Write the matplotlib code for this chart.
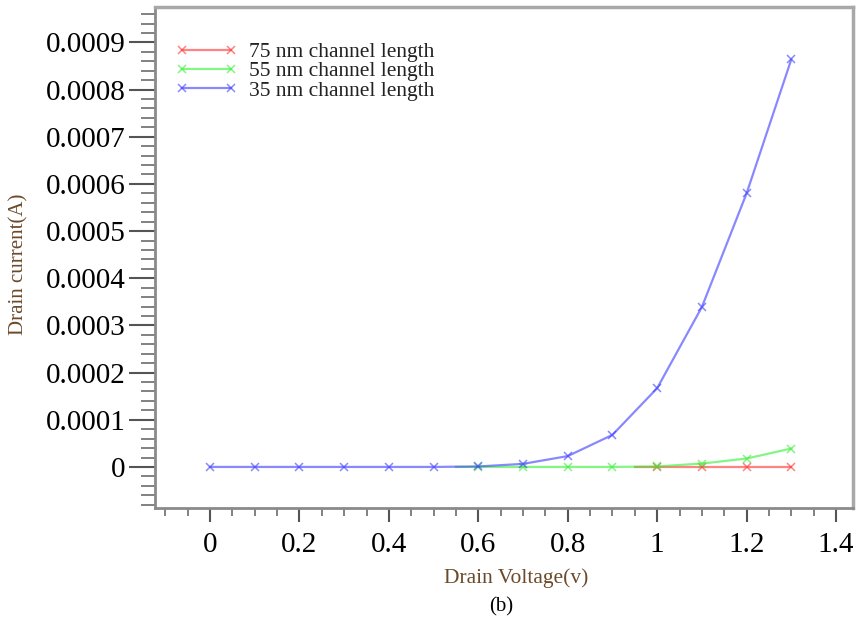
import matplotlib.pyplot as plt
from matplotlib.ticker import MultipleLocator, FuncFormatter

plt.rcParams['font.family'] = ['Liberation Serif', 'DejaVu Serif']

# drain voltage sweep (V) and drain current (A) per channel length
vd_35 = [0.0, 0.1, 0.2, 0.3, 0.4, 0.5, 0.6, 0.7, 0.8, 0.9, 1.0, 1.1, 1.2, 1.3]
id_35 = [0.0, 0.0, 0.0, 0.0, 0.0, 0.0, 0.000001, 0.0000065, 0.000023, 0.000068,
         0.000167, 0.000339, 0.00058, 0.000864]

vd_55 = [0.55, 0.6, 0.7, 0.8, 0.9, 1.0, 1.1, 1.2, 1.3]
id_55 = [0.0, 0.0, 0.0, 0.0, 0.0, 0.000001, 0.0000072, 0.0000178, 0.000039]

vd_75 = [0.95, 1.0, 1.1, 1.2, 1.3]
id_75 = [0.0, 0.0, 0.0, 0.0, 0.0]

labels = ['75 nm channel length', '55 nm channel length', '35 nm channel length']
colors = ['#ff3030', '#30f030', '#3a3aff']

fig = plt.figure(figsize=(8.58, 6.21), dpi=100)
ax = fig.add_axes([0.1807, 0.182, 0.8135, 0.8067])

series = [(vd_75, id_75), (vd_55, id_55), (vd_35, id_35)]
for (x, y), lab, c in zip(series, labels, colors):
    # the shorter curves start half a step early, without a marker there
    start = 0 if x[0] == 0.0 else 1
    ax.plot(x, y, color=c, alpha=0.6, lw=1.6, marker='x', ms=6, mew=1.1,
            markevery=list(range(start, len(x))), label=lab)

ax.set_xlim(-0.123, 1.438)
ax.set_ylim(-0.000087, 0.000975)

ax.xaxis.set_major_locator(MultipleLocator(0.2))
ax.xaxis.set_minor_locator(MultipleLocator(0.05))
ax.yaxis.set_major_locator(MultipleLocator(0.0001))
ax.yaxis.set_minor_locator(MultipleLocator(0.00002))

ax.xaxis.set_major_formatter(FuncFormatter(lambda v, p: f'{v:g}'))
ax.yaxis.set_major_formatter(FuncFormatter(lambda v, p: '0' if abs(v) < 1e-9 else f'{v:.4f}'))

ax.tick_params(axis='y', which='major', length=19, width=1.5, color='#555555',
               labelsize=21, pad=2)
ax.tick_params(axis='y', which='minor', length=10, width=1.3, color='#777777')
ax.tick_params(axis='x', which='major', length=10, width=1.5, color='#555555',
               labelsize=21, pad=7)
ax.tick_params(axis='x', which='minor', length=6, width=1.3, color='#777777')

for side in ['left', 'bottom']:
    ax.spines[side].set_color('#8a8a8a')
    ax.spines[side].set_linewidth(2)
for side in ['top', 'right']:
    ax.spines[side].set_color('#a8a8a8')
    ax.spines[side].set_linewidth(2.5)

ax.set_xlabel('Drain Voltage(v)', fontsize=15.5, color='#6b4a2a')
ax.set_ylabel('Drain current(A)', fontsize=15, color='#6b4a2a')
ax.xaxis.set_label_coords(0.518, -0.12)
ax.yaxis.set_label_coords(-0.182, 0.487)

leg = ax.legend(loc='upper left', bbox_to_anchor=(0.017, 0.947), frameon=False,
                fontsize=15.5, handlelength=2.9, handletextpad=0.5,
                labelspacing=-0.04, numpoints=2, borderaxespad=0)
for t in leg.get_texts():
    t.set_color('#222222')

fig.text(0.584, 0.0225, '(b)', ha='center', va='center', fontsize=15)

fig.savefig('out.png', dpi=100)
